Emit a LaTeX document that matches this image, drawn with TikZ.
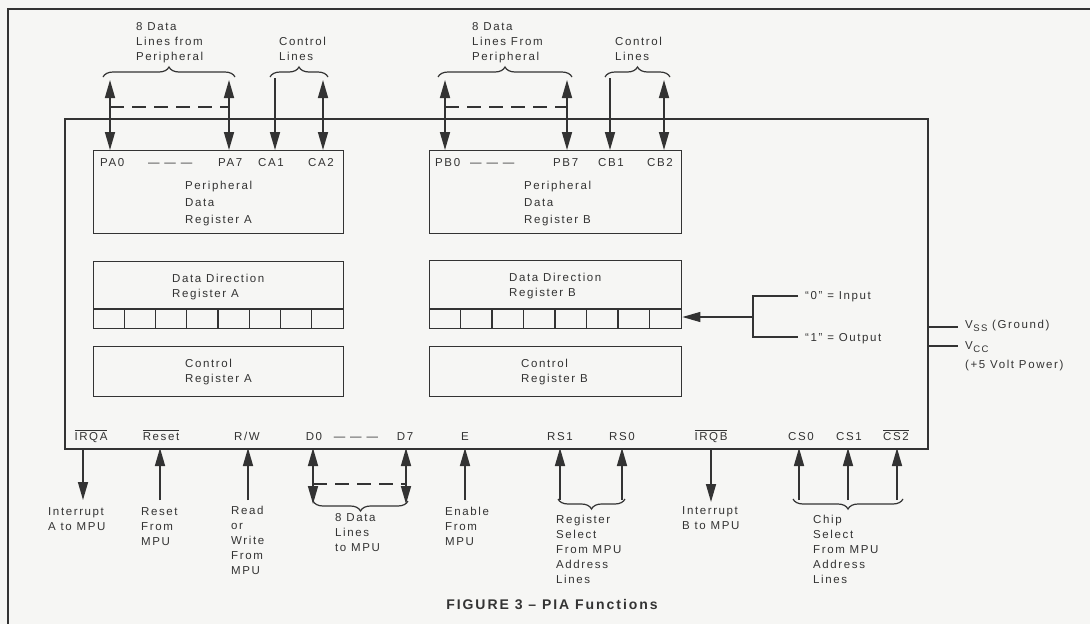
\documentclass[tikz,border=0pt]{standalone}
\usepackage{fontspec}
\setmainfont{Liberation Sans}[LetterSpace=14]
\usetikzlibrary{arrows.meta,decorations.pathreplacing}
\definecolor{ink}{HTML}{333333}
\definecolor{paper}{HTML}{F6F6F4}
\tikzset{
  x=1pt, y=-1pt,
  ah/.tip={Triangle[length=18pt,width=10pt]},
  lbl/.style={inner sep=0pt, font=\fontsize{11.5}{14.8}\selectfont, text=ink, align=left, anchor=base west},
  pinlbl/.style={inner sep=0pt, font=\fontsize{11.5}{14}\selectfont, text=ink, anchor=base},
  regbox/.style={draw=ink, line width=1.4pt, inner sep=0pt, anchor=north west},
  sig/.style={draw=ink, line width=1.6pt},
  dashsig/.style={draw=ink, line width=1.4pt, dash pattern=on 14pt off 8pt},
  brc/.style={draw=ink, line width=1.2pt, decorate, decoration={brace, amplitude=10pt}},
}
\newcommand{\subsc}[1]{\kern0.5pt\raisebox{-3.5pt}{\fontsize{9.5}{10}\selectfont #1}}
\begin{document}
\begin{tikzpicture}
\fill[paper] (0,0) rectangle (1090,624);
\useasboundingbox (0,0) rectangle (1090,624);
% outer frame (top and left)
\draw[ink, line width=1.7pt] (8,624) -- (8,9) -- (1090,9);

% chip
\node[regbox, line width=1.9pt, minimum width=863pt, minimum height=330pt] (chip) at (64,118) {};
% registers A
\node[regbox, minimum width=250pt, minimum height=83pt] (pdra) at (93,150) {};
\node[regbox, minimum width=250pt, minimum height=67pt] (ddra) at (93,261) {};
\node[regbox, minimum width=250pt, minimum height=50pt] (cra) at (93,346) {};
% registers B
\node[regbox, minimum width=252pt, minimum height=83pt] (pdrb) at (429,150) {};
\node[regbox, minimum width=252pt, minimum height=68pt] (ddrb) at (429,260) {};
\node[regbox, minimum width=252pt, minimum height=50pt] (crb) at (429,346) {};
% DDR cells
\draw[ink, line width=1.4pt] (93,309) -- (343,309);
\foreach \i in {1,...,7} \draw[ink, line width=1.4pt] (93+31.25*\i,309) -- (93+31.25*\i,328);
\draw[ink, line width=1.4pt] (429,309) -- (681,309);
\foreach \i in {1,...,7} \draw[ink, line width=1.4pt] (429+31.5*\i,309) -- (429+31.5*\i,328);

% register texts (anchor = baseline of last line)
\node[lbl] (ta1) at (185,223) {Peripheral\\[2pt]Data\\[2pt]Register A};
\node[lbl] (ta2) at (172,297) {Data Direction\\Register A};
\node[lbl] (ta3) at (185,382) {Control\\Register A};
\node[lbl] (tb1) at (524,223) {Peripheral\\[2pt]Data\\[2pt]Register B};
\node[lbl] (tb2) at (509,296) {Data Direction\\Register B};
\node[lbl] (tb3) at (521,382) {Control\\Register B};

% top pin labels
\node[lbl] (lpa0) at (100,166) {PA0};
\node[lbl] (lpad) at (148,166) {— — —};
\node[lbl] (lpa7) at (218,166) {PA7};
\node[lbl] (lca1) at (258,166) {CA1};
\node[lbl] (lca2) at (308,166) {CA2};
\node[lbl] (lpb0) at (435,166) {PB0};
\node[lbl] (lpbd) at (470,166) {— — —};
\node[lbl] (lpb7) at (553,166) {PB7};
\node[lbl] (lcb1) at (598,166) {CB1};
\node[lbl] (lcb2) at (647,166) {CB2};

% top coordinates
\foreach \n/\x in {pa0/110,pa7/229,ca1/275,ca2/323,pb0/445,pb7/567,cb1/610,cb2/664}{
  \coordinate (\n t) at (\x,80);
  \coordinate (\n m) at (\x,107);
  \coordinate (\n b) at (\x,150);
}
\draw[sig, ah-ah] (pa0t) -- (pa0b);
\draw[sig, ah-ah] (pa7t) -- (pa7b);
\draw[sig, -ah] (275,78) coordinate (ca1s) -- (ca1b);
\draw[sig, ah-ah] (ca2t) -- (ca2b);
\draw[sig, ah-ah] (pb0t) -- (pb0b);
\draw[sig, ah-ah] (pb7t) -- (pb7b);
\draw[sig, -ah] (610,78) coordinate (cb1s) -- (cb1b);
\draw[sig, ah-ah] (cb2t) -- (cb2b);
\draw[dashsig] (pa0m) -- (pa7m);
\draw[dashsig] (pb0m) -- (pb7m);

% top braces
\coordinate (ba1l) at (103,77); \coordinate (ba1r) at (235,77);
\coordinate (ba2l) at (270,77); \coordinate (ba2r) at (328,77);
\coordinate (bb1l) at (438,77); \coordinate (bb1r) at (572,77);
\coordinate (bb2l) at (605,77); \coordinate (bb2r) at (670,77);
\draw[brc] (ba1l) -- (ba1r);
\draw[brc] (ba2l) -- (ba2r);
\draw[brc] (bb1l) -- (bb1r);
\draw[brc] (bb2l) -- (bb2r);

% top texts
\node[lbl] (tt1) at (136,60) {8 Data\\Lines from\\Peripheral};
\node[lbl] (tt2) at (279,60) {Control\\Lines};
\node[lbl] (tt3) at (472,60) {8 Data\\Lines From\\Peripheral};
\node[lbl] (tt4) at (615,60) {Control\\Lines};

% right side: DDR control
\coordinate (dj) at (753,317);
\coordinate (d0) at (798,296);
\coordinate (d1) at (798,337);
\draw[sig, line width=1.3pt] (d0) -- (753,296) -- (753,337) -- (d1);
\draw[sig, line width=1.3pt, -ah] (dj) -- (ddrb.east |- dj);
\node[lbl] (in0) at (805,299) {``0'' = Input};
\node[lbl] (in1) at (805,341) {``1'' = Output};

% power
\coordinate (vss) at (958,327);
\coordinate (vcc) at (958,346);
\draw[sig, line width=1.4pt] (chip.east |- vss) -- (vss);
\draw[sig, line width=1.4pt] (chip.east |- vcc) -- (vcc);
\node[lbl] (tvss) at (965,328) {V\subsc{SS} (Ground)};
\node[lbl] (tvcc) at (965,368) {V\subsc{CC}\\[4pt](+5 Volt Power)};

% bottom pin labels
\node[pinlbl] (lirqa) at (91,440) {$\overline{\mbox{IRQA}}$};
\node[pinlbl] (lrst) at (161,440) {$\overline{\mbox{Reset}}$};
\node[pinlbl] (lrw) at (247,440) {R/W};
\node[pinlbl] (ld0) at (314,440) {D0};
\node[pinlbl] (ldd) at (356,440) {— — —};
\node[pinlbl] (ld7) at (405,440) {D7};
\node[pinlbl] (le) at (465,440) {E};
\node[pinlbl] (lrs1) at (560,440) {RS1};
\node[pinlbl] (lrs0) at (622,440) {RS0};
\node[pinlbl] (lirqb) at (711,440) {$\overline{\mbox{IRQB}}$};
\node[pinlbl] (lcs0) at (801,440) {CS0};
\node[pinlbl] (lcs1) at (849,440) {CS1};
\node[pinlbl] (lcs2) at (896,440) {$\overline{\mbox{CS2}}$};

% bottom coordinates
\foreach \n/\x in {irqa/83,rst/160,rw/248,dz/313,ds/406,en/465,rsa/560,rsb/622,irqb/711,csa/799,csb/848,csc/897}{
  \coordinate (\n c) at (\x,448);
  \coordinate (\n e) at (\x,500);
}
\draw[sig, -ah] (irqac) -- (irqae);
\draw[sig, -ah] (rste) -- (rstc);
\draw[sig, -ah] (rwe) -- (rwc);
\draw[sig, ah-ah] (dzc) -- (313,504) coordinate (dzx);
\draw[sig, ah-ah] (dsc) -- (406,504) coordinate (dsx);
\draw[dashsig] (313,484) coordinate (dzm) -- (406,484) coordinate (dsm);
\draw[sig, -ah] (ene) -- (enc);
\draw[sig, -ah] (rsae) -- (rsac);
\draw[sig, -ah] (rsbe) -- (rsbc);
\draw[sig, -ah] (irqbc) -- (711,502) coordinate (irqbx);
\draw[sig, -ah] (csae) -- (csac);
\draw[sig, -ah] (csbe) -- (csbc);
\draw[sig, -ah] (csce) -- (cscc);

% bottom braces
\coordinate (bdl) at (313,501); \coordinate (bdr) at (408,501);
\coordinate (brl) at (558,499); \coordinate (brr) at (625,499);
\coordinate (bcl) at (793,499); \coordinate (bcr) at (903,499);
\draw[brc] (bdr) -- (bdl);
\draw[brc] (brr) -- (brl);
\draw[brc] (bcr) -- (bcl);

% bottom texts (anchor = baseline of last line)
\node[lbl] (b1) at (48,530) {Interrupt\\A to MPU};
\node[lbl] (b2) at (141,545) {Reset\\From\\MPU};
\node[lbl] (b3) at (231,574) {Read\\or\\Write\\From\\MPU};
\node[lbl] (b4) at (335,551) {8 Data\\Lines\\to MPU};
\node[lbl] (b5) at (445,545) {Enable\\From\\MPU};
\node[lbl] (b6) at (556,583) {Register\\Select\\From MPU\\Address\\Lines};
\node[lbl] (b7) at (682,529) {Interrupt\\B to MPU};
\node[lbl] (b8) at (813,583) {Chip\\Select\\From MPU\\Address\\Lines};

% caption
\node[inner sep=0pt, anchor=base, text=ink, font=\bfseries\fontsize{14}{16}\selectfont] (cap) at (552,609) {FIGURE 3 -- PIA Functions};
\end{tikzpicture}
\end{document}
